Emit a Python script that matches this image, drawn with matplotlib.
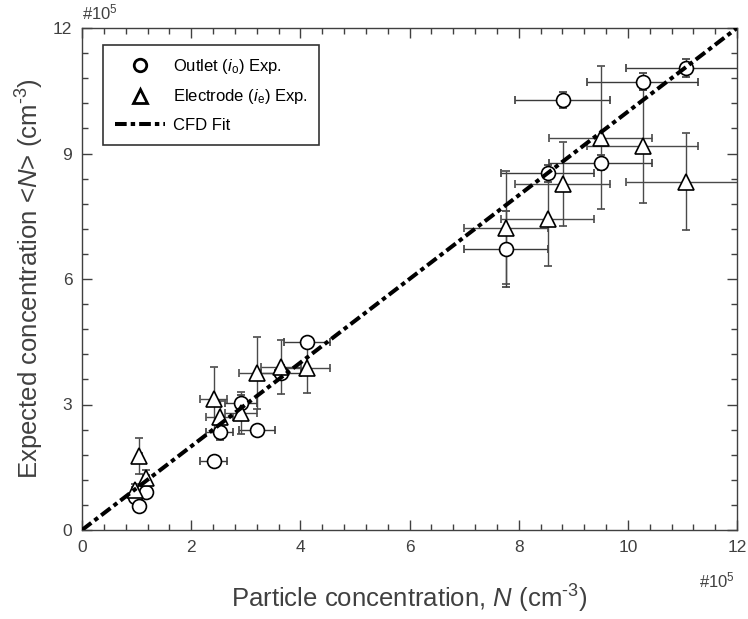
import matplotlib
matplotlib.use("Agg")
import matplotlib.pyplot as plt
import numpy as np
from matplotlib.ticker import MultipleLocator
from matplotlib.lines import Line2D

plt.rcParams['font.family'] = ['Liberation Sans', 'DejaVu Sans']
plt.rcParams['mathtext.fontset'] = 'custom'
plt.rcParams['mathtext.rm'] = 'Liberation Sans'
plt.rcParams['mathtext.it'] = 'Liberation Sans:italic'
plt.rcParams['mathtext.bf'] = 'Liberation Sans:bold'

# Data (units of 1e5 cm^-3)
x_vals = [0.97, 1.05, 1.17, 2.41, 2.52, 2.91, 3.21, 3.65, 4.12,
          7.76, 8.53, 8.81, 9.50, 10.27, 11.07]
x_err = [0.05, 0.05, 0.05, 0.24, 0.25, 0.29, 0.33, 0.37, 0.42,
         0.77, 0.85, 0.87, 0.94, 1.02, 1.10]

outlet_y = [0.80, 0.57, 0.90, 1.66, 2.35, 3.03, 2.38, 3.75, 4.50,
            6.72, 8.53, 10.28, 8.78, 10.72, 11.04]
outlet_yerr = [0.08, 0.05, 0.08, 0.05, 0.20, 0.20, 0.05, 0.10, 0.10,
               0.90, 0.20, 0.20, 0.18, 0.20, 0.21]

electrode_y = [0.96, 1.77, 1.24, 3.12, 2.69, 2.80, 3.75, 3.89, 3.88,
               7.23, 7.43, 8.27, 9.38, 9.17, 8.33]
electrode_yerr = [0.15, 0.42, 0.20, 0.78, 0.40, 0.50, 0.86, 0.65, 0.60,
                  1.34, 1.13, 1.00, 1.70, 1.35, 1.15]

fit_x = [0, 12]
fit_y = [0, 12]

text_col = '#404040'
dash = (0, (2.9, 1.0, 1.1, 1.0))

fig = plt.figure(figsize=(7.48, 6.19), dpi=100)
ax = fig.add_axes([82/748, 89/619, 655/748, 502/619])

ax.plot(fit_x, fit_y, color='black', lw=2.9, linestyle=dash, zorder=4)

ax.errorbar(x_vals, outlet_y, xerr=x_err, yerr=outlet_yerr, fmt='o',
            ms=10, mfc='white', mec='black', mew=1.2,
            ecolor='#3a3a3a', elinewidth=1.0, capsize=3, capthick=1.0,
            zorder=3)
ax.errorbar(x_vals, electrode_y, xerr=x_err, yerr=electrode_yerr, fmt='^',
            ms=11, mfc='white', mec='black', mew=1.2,
            ecolor='#4a4a4a', elinewidth=1.0, capsize=3, capthick=1.0,
            zorder=3)

ax.set_xlim(0, 12)
ax.set_ylim(0, 12)
ax.xaxis.set_major_locator(MultipleLocator(2))
ax.xaxis.set_minor_locator(MultipleLocator(0.4))
ax.yaxis.set_major_locator(MultipleLocator(3))
ax.yaxis.set_minor_locator(MultipleLocator(0.6))
ax.tick_params(which='both', direction='in', top=True, right=True,
               colors=text_col, labelsize=12.5, width=1.0)
ax.tick_params(which='major', length=7, pad=7)
ax.tick_params(which='minor', length=4)
for s in ax.spines.values():
    s.set_color(text_col)
    s.set_linewidth(1.0)

ax.set_xlabel(r'Particle concentration, $\mathit{N}$ (cm$^{\text{-3}}$)',
              fontsize=18.5, color=text_col, labelpad=20)
ax.set_ylabel(r'Expected concentration <$\mathit{N}$> (cm$^{\text{-3}}$)',
              fontsize=18.5, color=text_col, labelpad=5)

fig.text(82/748, 1 - 12/619, r'#10$^5$', fontsize=12, color=text_col,
         ha='left', va='center')
fig.text(735/748, 1 - 580/619, r'#10$^5$', fontsize=12, color=text_col,
         ha='right', va='center')

h1 = Line2D([], [], marker='o', ls='none', ms=9, mfc='white', mec='black', mew=2)
h2 = Line2D([], [], marker='^', ls='none', ms=10, mfc='white', mec='black', mew=2)
h3 = Line2D([], [], color='black', lw=2.9, linestyle=dash)
leg = ax.legend([h1, h2, h3],
                [r'Outlet ($\mathit{i}_{\rm o}$) Exp.',
                 r'Electrode ($\mathit{i}_{\rm e}$) Exp.', 'CFD Fit'],
                loc='upper left', bbox_to_anchor=(0.032, 0.966),
                fontsize=12, frameon=True, fancybox=False, edgecolor='black',
                borderpad=0.7, labelspacing=0.7, handlelength=3.0,
                handletextpad=0.5, borderaxespad=0)
leg.get_frame().set_linewidth(1.2)
for t in leg.get_texts():
    t.set_color('black')

fig.savefig('out.png', dpi=100)
